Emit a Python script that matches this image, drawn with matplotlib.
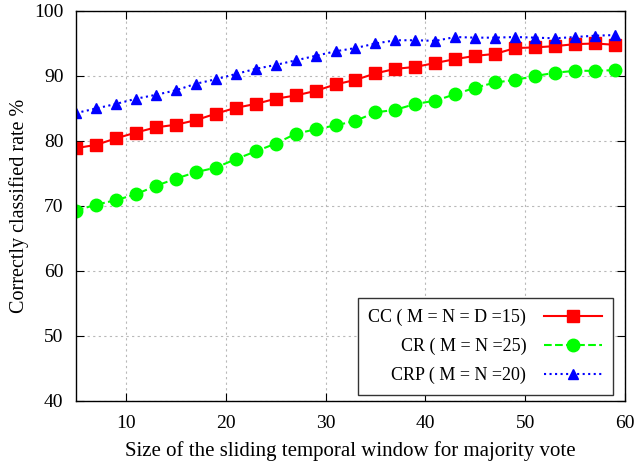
import matplotlib.pyplot as plt
import numpy as np

plt.rcParams['font.family'] = ['Liberation Serif', 'DejaVu Serif']
plt.rcParams['mathtext.fontset'] = 'stix'

window = list(range(5, 60, 2))

cc = [78.9, 79.4, 80.4, 81.3, 82.1, 82.5, 83.2, 84.2, 85.1, 85.7, 86.5, 87.0, 87.7, 88.7,
      89.4, 90.4, 91.1, 91.4, 92.0, 92.6, 93.1, 93.4, 94.3, 94.4, 94.6, 94.9, 95.0, 94.8]
cr = [69.3, 70.2, 70.9, 71.8, 73.1, 74.2, 75.2, 75.9, 77.2, 78.4, 79.6, 81.1, 81.8, 82.4,
      83.1, 84.4, 84.8, 85.7, 86.2, 87.2, 88.2, 89.0, 89.4, 90.0, 90.5, 90.8, 90.8, 90.9]
crp = [84.3, 85.0, 85.7, 86.5, 87.1, 87.8, 88.8, 89.5, 90.3, 91.1, 91.7, 92.4, 93.1, 93.8,
       94.3, 95.0, 95.5, 95.5, 95.4, 96.0, 95.9, 95.9, 96.0, 95.9, 95.8, 96.0, 96.2, 96.3]

labels = ['CC ( M = N = D =15)', 'CR ( M = N =25)', 'CRP ( M = N =20)']

fig = plt.figure(figsize=(6.41, 4.68), dpi=100)
ax = fig.add_axes([0.1186, 0.1432, 0.8564, 0.8333])

ax.plot(window, cc, color='#ff0000', linestyle='-', marker='s', markersize=9, label=labels[0])
ax.plot(window, cr, color='#00ff00', linestyle='--', marker='o', markersize=9, label=labels[1])
ax.plot(window, crp, color='#0000ff', linestyle=':', marker='^', markersize=7.5, label=labels[2])

ax.set_xlim(5, 60)
ax.set_ylim(40, 100)
ax.set_xticks([10, 20, 30, 40, 50, 60])
ax.set_yticks(np.arange(40, 101, 10))
ax.tick_params(direction='in', top=True, right=True, labelsize=14, length=6)
ax.tick_params(axis='x', pad=10)
ax.tick_params(axis='y', pad=9)
ax.grid(True, color='#b8b8b8', linestyle=(0, (2, 3)), linewidth=0.8)
ax.set_xlabel('Size of the sliding temporal window for majority vote', fontsize=15, labelpad=7)
ax.set_ylabel('Correctly classified rate %', fontsize=14.5, labelpad=4)
for s in ax.spines.values():
    s.set_linewidth(1.0)

leg = ax.legend(loc='lower right', bbox_to_anchor=(0.978, 0.015), borderaxespad=0,
                markerfirst=False, fontsize=13, fancybox=False, framealpha=1,
                edgecolor='#333333', handlelength=3.2, handletextpad=1.0,
                borderpad=0.6, labelspacing=0.65)
leg.get_frame().set_linewidth(1.0)
for t in leg.get_texts():
    t.set_ha('right')
leg._legend_box.align = 'right'

fig.savefig('out.png', dpi=100)
